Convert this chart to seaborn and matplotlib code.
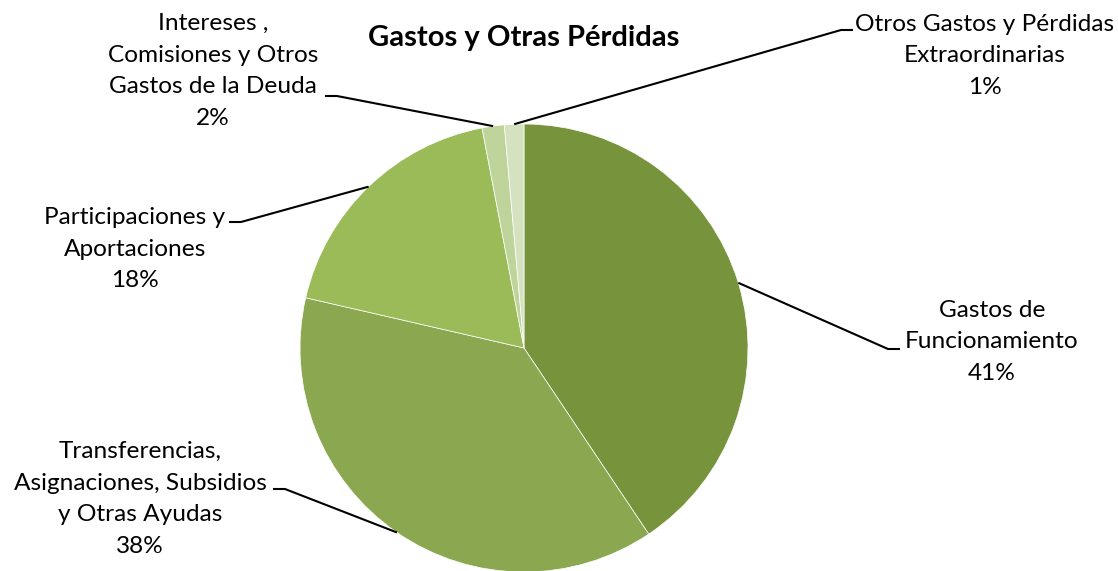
import numpy as np
import matplotlib
matplotlib.use("Agg")
import matplotlib.pyplot as plt
import seaborn as sns

# Data (share of total, %)
categorias = [
    "Gastos de\nFuncionamiento",
    "Transferencias,\nAsignaciones, Subsidios\ny Otras Ayudas",
    "Participaciones y\nAportaciones",
    "Intereses ,\nComisiones y Otros\nGastos de la Deuda",
    "Otros Gastos y Pérdidas\nExtraordinarias",
]
valores = [40.6, 38.0, 18.4, 1.6, 1.4]
colores = ["#77933C", "#8BA851", "#9BBB59", "#BFD49A", "#D5E2BF"]

sns.set_theme(style="white")
plt.rcParams["font.family"] = ["Lato", "DejaVu Sans"]

W, H = 1118, 571
fig = plt.figure(figsize=(W / 100, H / 100), dpi=100)
ax = fig.add_axes([0, 0, 1, 1])

# pie in pixel-like coordinates (y measured from bottom)
cx, cy, r = 524, H - 348, 224
wedges, _ = ax.pie(valores, colors=sns.color_palette(colores), startangle=90,
                   counterclock=False, center=(cx, cy), radius=r,
                   wedgeprops=dict(edgecolor="white", linewidth=0.5), frame=True)
ax.set_xlim(0, W)
ax.set_ylim(0, H)
ax.axis("off")

# label layout: text centre, elbow point, elbow direction
layout = [
    dict(text=(992, 342), elbow=(888, 349), dx=12),
    dict(text=(140, 499), elbow=(285, 489), dx=-12),
    dict(text=(135, 249), elbow=(241, 222), dx=-12),
    dict(text=(213, 71), elbow=(337, 96), dx=-12),
    dict(text=(985, 56), elbow=(841, 30), dx=12),
]

total = sum(valores)
for w, nombre, v, lay in zip(wedges, categorias, valores, layout):
    ang = np.deg2rad((w.theta1 + w.theta2) / 2)
    ax_x = cx + r * np.cos(ang)
    ax_y = cy + r * np.sin(ang)
    ex, ey = lay["elbow"]
    ey = H - ey
    ax.plot([ax_x, ex, ex + lay["dx"]], [ax_y, ey, ey], color="black", lw=1.5,
            solid_capstyle="butt")
    tx, ty = lay["text"]
    pct = int(round(v / total * 100))
    ax.text(tx, H - ty, f"{nombre}\n{pct}%", ha="center", va="center",
            fontsize=17.6, linespacing=1.62, color="black")

ax.text(524, H - 38, "Gastos y Otras Pérdidas", ha="center", va="center",
        fontsize=21, fontweight="bold", color="black")

fig.savefig("out.png", dpi=100)
